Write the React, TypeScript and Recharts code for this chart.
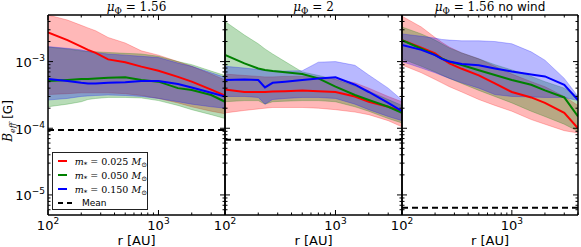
import React from 'react'
import { ComposedChart, Area, Line, XAxis, YAxis, ReferenceLine } from 'recharts'

// radius grid shared by every panel [AU]
const radii = [100, 150, 200, 230, 270, 350, 500, 700, 1000, 1500, 2000, 3000, 4000]

// panel 1: mu = 1.56
const p1Red = [2.75e-3, 2.1e-3, 1.68e-3, 1.5e-3, 1.35e-3, 1.08e-3, 9.8e-4, 8.4e-4, 7.3e-4, 5.9e-4, 5.0e-4, 3.8e-4, 3.1e-4]
const p1RedLo = [3.2e-4, 3.3e-4, 3.4e-4, 3.4e-4, 3.4e-4, 3.4e-4, 3.3e-4, 3.1e-4, 2.8e-4, 2.4e-4, 2.1e-4, 1.8e-4, 1.65e-4]
const p1RedHi = [5.0e-3, 4.2e-3, 3.5e-3, 3.2e-3, 2.9e-3, 2.3e-3, 1.9e-3, 1.45e-3, 1.25e-3, 1.0e-3, 8.5e-4, 6.5e-4, 5.3e-4]
const p1Green = [5.1e-4, 5.3e-4, 5.5e-4, 5.5e-4, 5.6e-4, 5.7e-4, 5.8e-4, 5.3e-4, 5.0e-4, 4.0e-4, 3.75e-4, 3.15e-4, 2.5e-4]
const p1GreenLo = [2.1e-4, 2.3e-4, 2.5e-4, 2.7e-4, 2.8e-4, 2.9e-4, 2.9e-4, 2.85e-4, 2.6e-4, 2.2e-4, 1.9e-4, 1.6e-4, 1.4e-4]
const p1GreenHi = [1.65e-3, 1.55e-3, 1.45e-3, 1.42e-3, 1.4e-3, 1.37e-3, 1.33e-3, 1.3e-3, 1.2e-3, 1.0e-3, 9.0e-4, 7.2e-4, 6.2e-4]
const p1Blue = [5.5e-4, 5.1e-4, 4.8e-4, 4.7e-4, 4.7e-4, 4.8e-4, 4.9e-4, 5.1e-4, 5.1e-4, 4.6e-4, 4.1e-4, 3.4e-4, 3.0e-4]
const p1BlueLo = [2.65e-4, 2.8e-4, 3.0e-4, 3.05e-4, 3.1e-4, 3.15e-4, 3.1e-4, 3.0e-4, 2.8e-4, 2.5e-4, 2.3e-4, 2.1e-4, 2.0e-4]
const p1BlueHi = [1.68e-3, 1.58e-3, 1.5e-3, 1.42e-3, 1.36e-3, 1.3e-3, 1.25e-3, 1.2e-3, 1.15e-3, 9.5e-4, 8.5e-4, 6.8e-4, 5.8e-4]
const p1Mean = 9.4e-5

// panel 2: mu = 2
const p2Red = [3.8e-4, 3.5e-4, 3.5e-4, 3.5e-4, 3.55e-4, 3.6e-4, 3.7e-4, 3.6e-4, 3.5e-4, 3.0e-4, 2.5e-4, 2.1e-4, 1.8e-4]
const p2RedLo = [1.7e-4, 1.85e-4, 1.95e-4, 2.0e-4, 2.05e-4, 2.05e-4, 2.05e-4, 2.0e-4, 1.9e-4, 1.75e-4, 1.6e-4, 1.3e-4, 1.05e-4]
const p2RedHi = [6.5e-4, 6.2e-4, 6.0e-4, 5.9e-4, 5.9e-4, 6.0e-4, 6.0e-4, 5.8e-4, 5.5e-4, 4.8e-4, 4.0e-4, 3.0e-4, 2.5e-4]
const p2Green = [1.26e-3, 9.4e-4, 7.9e-4, 7.5e-4, 7.2e-4, 6.9e-4, 6.5e-4, 5.6e-4, 4.2e-4, 3.15e-4, 2.65e-4, 2.1e-4, 1.7e-4]
const p2GreenLo = [2.5e-4, 2.6e-4, 2.6e-4, 2.3e-4, 2.5e-4, 2.55e-4, 2.6e-4, 2.6e-4, 2.5e-4, 2.1e-4, 1.8e-4, 1.4e-4, 1.2e-4]
const p2GreenHi = [4.0e-3, 2.5e-3, 1.85e-3, 1.55e-3, 1.3e-3, 1.0e-3, 7.0e-4, 6.2e-4, 5.4e-4, 4.3e-4, 3.6e-4, 2.7e-4, 2.2e-4]
const p2Blue = [5.3e-4, 5.4e-4, 5.3e-4, 4.1e-4, 4.8e-4, 5.0e-4, 5.3e-4, 5.6e-4, 5.8e-4, 4.5e-4, 3.5e-4, 2.4e-4, 1.8e-4]
const p2BlueLo = [3.0e-4, 3.0e-4, 2.9e-4, 2.3e-4, 2.7e-4, 2.8e-4, 2.9e-4, 2.9e-4, 2.8e-4, 2.3e-4, 1.9e-4, 1.5e-4, 1.3e-4]
const p2BlueHi = [8.5e-4, 8.0e-4, 7.6e-4, 7.4e-4, 7.3e-4, 7.2e-4, 7.3e-4, 9.8e-4, 1.0e-3, 8.8e-4, 6.3e-4, 4.0e-4, 2.65e-4]
const p2Mean = 6.7e-5

// panel 3: mu = 1.56, no wind
const p3Red = [2.1e-3, 1.62e-3, 1.33e-3, 1.12e-3, 9.4e-4, 7.8e-4, 6.2e-4, 4.7e-4, 3.5e-4, 2.9e-4, 2.4e-4, 1.7e-4, 1.0e-4]
const p3RedLo = [8.9e-4, 6.8e-4, 5.4e-4, 4.8e-4, 4.2e-4, 3.5e-4, 2.7e-4, 2.2e-4, 1.8e-4, 1.35e-4, 1.15e-4, 9.2e-5, 8.5e-5]
const p3RedHi = [4.8e-3, 3.3e-3, 2.3e-3, 1.95e-3, 1.65e-3, 1.35e-3, 1.1e-3, 8.5e-4, 6.5e-4, 5.0e-4, 4.2e-4, 3.0e-4, 2.2e-4]
const p3Green = [2.1e-3, 1.56e-3, 1.26e-3, 1.12e-3, 1.0e-3, 8.9e-4, 7.4e-4, 6.3e-4, 5.3e-4, 4.5e-4, 3.7e-4, 2.9e-4, 1.5e-4]
const p3GreenLo = [1.1e-3, 8.5e-4, 7.0e-4, 6.3e-4, 5.6e-4, 4.7e-4, 3.7e-4, 3.0e-4, 2.4e-4, 1.8e-4, 1.5e-4, 1.15e-4, 9.0e-5]
const p3GreenHi = [3.3e-3, 2.6e-3, 2.1e-3, 1.85e-3, 1.6e-3, 1.35e-3, 1.1e-3, 9.0e-4, 7.5e-4, 6.0e-4, 5.0e-4, 4.0e-4, 3.0e-4]
const p3Blue = [1.77e-3, 1.5e-3, 1.25e-3, 1.1e-3, 1.0e-3, 9.2e-4, 8.8e-4, 7.9e-4, 7.1e-4, 6.4e-4, 6.0e-4, 4.5e-4, 2.65e-4]
const p3BlueLo = [1.0e-3, 8.0e-4, 6.8e-4, 6.2e-4, 5.6e-4, 4.8e-4, 4.0e-4, 3.2e-4, 3.0e-4, 2.95e-4, 2.9e-4, 2.9e-4, 2.6e-4]
const p3BlueHi = [2.6e-3, 2.4e-3, 2.25e-3, 2.15e-3, 2.1e-3, 2.05e-3, 2.05e-3, 2.0e-3, 1.85e-3, 1.4e-3, 1.05e-3, 5.6e-4, 3.0e-4]
const p3Mean = 6.4e-6

// axis ticks
const xTicks = [100, 200, 300, 400, 500, 600, 700, 800, 900, 1000, 2000, 3000, 4000]
const xMajor = [100, 1000]
const xMajorExp = ['2', '3']
const yTicks = [
  6e-6, 7e-6, 8e-6, 9e-6, 1e-5, 2e-5, 3e-5, 4e-5, 5e-5, 6e-5, 7e-5, 8e-5, 9e-5,
  1e-4, 2e-4, 3e-4, 4e-4, 5e-4, 6e-4, 7e-4, 8e-4, 9e-4, 1e-3, 2e-3, 3e-3, 4e-3,
]
const yMajor = [1e-5, 1e-4, 1e-3]
const yMajorExp = ['\u22125', '\u22124', '\u22123']

const legendLabels = ['0.025', '0.050', '0.150']

const RED = '#ff0000'
const GREEN = '#008000'
const BLUE = '#0000ff'
const serif = '"DejaVu Serif", serif'
const sans = '"DejaVu Sans", sans-serif'

const panels = [
  { title: '1.56', suffix: '', mean: p1Mean, red: p1Red, redLo: p1RedLo, redHi: p1RedHi, green: p1Green, greenLo: p1GreenLo, greenHi: p1GreenHi, blue: p1Blue, blueLo: p1BlueLo, blueHi: p1BlueHi },
  { title: '2', suffix: '', mean: p2Mean, red: p2Red, redLo: p2RedLo, redHi: p2RedHi, green: p2Green, greenLo: p2GreenLo, greenHi: p2GreenHi, blue: p2Blue, blueLo: p2BlueLo, blueHi: p2BlueHi },
  { title: '1.56', suffix: 'no wind', mean: p3Mean, red: p3Red, redLo: p3RedLo, redHi: p3RedHi, green: p3Green, greenLo: p3GreenLo, greenHi: p3GreenHi, blue: p3Blue, blueLo: p3BlueLo, blueHi: p3BlueHi },
]

// plot box of each panel, in page pixels
const boxes = [
  { left: 48, width: 177, mLeft: 48, mRight: 8 },
  { left: 225, width: 177, mLeft: 14, mRight: 8 },
  { left: 402, width: 176, mLeft: 14, mRight: 3 },
]
const TOP = 15
const BOTTOM = 215

function BottomTick(props: any) {
  const { x, y, payload } = props
  const i = xMajor.indexOf(payload.value)
  const major = i >= 0
  return (
    <g>
      <line x1={x} x2={x} y1={y} y2={y - (major ? 5 : 2.5)} stroke="#000" strokeWidth={1} />
      {major && (
        <text x={x} y={y + 14.5} textAnchor="middle" fontSize={13} fontFamily={sans} fill="#000">
          10<tspan dy={-6} fontSize={9}>{xMajorExp[i]}</tspan>
        </text>
      )}
    </g>
  )
}

function TopTick(props: any) {
  const { x, y, payload } = props
  const major = xMajor.includes(payload.value)
  return <line x1={x} x2={x} y1={y} y2={y + (major ? 5 : 2.5)} stroke="#000" strokeWidth={1} />
}

function LeftTick(props: any) {
  const { x, y, payload, showLabel } = props
  const i = yMajor.indexOf(payload.value)
  const major = i >= 0
  return (
    <g>
      <line x1={x} x2={x + (major ? 5 : 2.5)} y1={y} y2={y} stroke="#000" strokeWidth={1} />
      {major && showLabel && (
        <text x={x - 3} y={y + 5.5} textAnchor="end" fontSize={13} fontFamily={sans} fill="#000">
          10<tspan dy={-6} fontSize={9}>{yMajorExp[i]}</tspan>
        </text>
      )}
    </g>
  )
}

function RightTick(props: any) {
  const { x, y, payload } = props
  const major = yMajor.includes(payload.value)
  return <line x1={x} x2={x - (major ? 5 : 2.5)} y1={y} y2={y} stroke="#000" strokeWidth={1} />
}

const frame = { stroke: '#000', strokeWidth: 1.5 }

function Panel({ p, box, showY }: any) {
  const data = radii.map((r, i) => ({
    r,
    red: p.red[i],
    green: p.green[i],
    blue: p.blue[i],
    redBand: [p.redLo[i], p.redHi[i]],
    greenBand: [p.greenLo[i], p.greenHi[i]],
    blueBand: [p.blueLo[i], p.blueHi[i]],
  }))
  const width = box.mLeft + box.width + box.mRight
  // axes are 1px thick so that they still render; margins absorb it
  const xProps = {
    dataKey: 'r',
    type: 'number' as const,
    scale: 'log' as const,
    domain: [100, 4000],
    allowDataOverflow: true,
    ticks: xTicks,
    interval: 0 as const,
    height: 1,
    tickSize: 0,
    tickMargin: 0,
    tickLine: false,
    axisLine: frame,
  }
  const yProps = {
    type: 'number' as const,
    scale: 'log' as const,
    domain: [5e-6, 5e-3],
    allowDataOverflow: true,
    ticks: yTicks,
    interval: 0 as const,
    width: 1,
    tickSize: 0,
    tickMargin: 0,
    tickLine: false,
    axisLine: frame,
  }
  const band = (key: string, color: string) => (
    <Area
      yAxisId="left"
      type="linear"
      dataKey={key}
      fill={color}
      fillOpacity={0.28}
      stroke={color}
      strokeOpacity={0.35}
      strokeWidth={0.7}
      isAnimationActive={false}
      dot={false}
      activeDot={false}
    />
  )
  const line = (key: string, color: string) => (
    <Line
      yAxisId="left"
      type="linear"
      dataKey={key}
      stroke={color}
      strokeWidth={2}
      dot={false}
      activeDot={false}
      isAnimationActive={false}
    />
  )
  return (
    <div style={{ position: 'absolute', left: box.left - box.mLeft, top: 0 }}>
      <ComposedChart
        width={width}
        height={247}
        data={data}
        margin={{ top: TOP - 1, right: box.mRight - 1, bottom: 247 - BOTTOM - 1, left: box.mLeft - 1 }}
      >
        {band('redBand', RED)}
        {band('greenBand', GREEN)}
        {band('blueBand', BLUE)}
        {line('red', RED)}
        {line('green', GREEN)}
        {line('blue', BLUE)}
        <ReferenceLine yAxisId="left" y={p.mean} stroke="#000" strokeWidth={2} strokeDasharray="6 4" />
        <XAxis {...xProps} xAxisId={0} orientation="bottom" tick={(t: any) => <BottomTick {...t} />} />
        <XAxis {...xProps} xAxisId="top" orientation="top" tick={(t: any) => <TopTick {...t} />} />
        <YAxis {...yProps} yAxisId="left" orientation="left" tick={(t: any) => <LeftTick {...t} showLabel={showY} />} />
        <YAxis {...yProps} yAxisId="right" orientation="right" tick={(t: any) => <RightTick {...t} />} />
      </ComposedChart>
    </div>
  )
}

function MuTitle({ value, suffix }: { value: string; suffix: string }) {
  return (
    <span style={{ whiteSpace: 'nowrap' }}>
      <span style={{ fontFamily: serif, fontStyle: 'italic' }}>μ</span>
      <span style={{ fontFamily: serif, fontSize: 9, position: 'relative', top: 3 }}>Φ</span>
      <span style={{ fontFamily: serif }}> = {value}</span>
      {suffix && <span style={{ fontFamily: sans }}> {suffix}</span>}
    </span>
  )
}

function LegendSwatch({ color, dashed }: { color: string; dashed?: boolean }) {
  return (
    <svg width={16} height={6} style={{ display: 'block' }}>
      <line x1={0} x2={16} y1={3} y2={3} stroke={color} strokeWidth={2} strokeDasharray={dashed ? '5 4' : undefined} />
    </svg>
  )
}

function Legend() {
  const rows = [
    { color: RED, label: legendLabels[0] },
    { color: GREEN, label: legendLabels[1] },
    { color: BLUE, label: legendLabels[2] },
  ]
  return (
    <div
      style={{
        position: 'absolute',
        left: 52,
        top: 152,
        width: 96,
        height: 58,
        border: '1px solid #222',
        background: '#fff',
        boxSizing: 'border-box',
        paddingTop: 1,
      }}
    >
      {rows.map((r) => (
        <div key={r.label} style={{ display: 'flex', alignItems: 'center', height: 14, paddingLeft: 5 }}>
          <LegendSwatch color={r.color} />
          <span style={{ marginLeft: 8, fontFamily: serif, fontSize: 9.5, whiteSpace: 'nowrap' }}>
            <i>m</i>
            <span style={{ fontSize: 7, position: 'relative', top: 2 }}>*</span> = {r.label}{' '}
            <i>M</i>
            <span style={{ fontSize: 7, position: 'relative', top: 2 }}>⊙</span>
          </span>
        </div>
      ))}
      <div style={{ display: 'flex', alignItems: 'center', height: 14, paddingLeft: 5 }}>
        <LegendSwatch color="#000" dashed />
        <span style={{ marginLeft: 8, fontFamily: sans, fontSize: 9 }}>Mean</span>
      </div>
    </div>
  )
}

export default function App() {
  return (
    <div style={{ position: 'absolute', left: 0, top: 0, width: 581, height: 247, background: '#fff', overflow: 'hidden' }}>
      {panels.map((p, i) => (
        <Panel key={i} p={p} box={boxes[i]} showY={i === 0} />
      ))}
      {panels.map((p, i) => (
        <div
          key={'t' + i}
          style={{
            position: 'absolute',
            left: boxes[i].left,
            width: boxes[i].width,
            top: 0,
            textAlign: 'center',
            fontSize: 12,
            lineHeight: '14px',
          }}
        >
          <MuTitle value={p.title} suffix={p.suffix} />
        </div>
      ))}
      {boxes.map((b, i) => (
        <div
          key={'x' + i}
          style={{
            position: 'absolute',
            left: b.left,
            width: b.width,
            top: 233,
            textAlign: 'center',
            fontFamily: sans,
            fontSize: 13,
            lineHeight: '16px',
          }}
        >
          r [AU]
        </div>
      ))}
      <div
        style={{
          position: 'absolute',
          left: 9,
          top: 121,
          transform: 'translate(-50%, -50%) rotate(-90deg)',
          whiteSpace: 'nowrap',
          fontSize: 12,
          lineHeight: '16px',
        }}
      >
        <span style={{ fontFamily: serif, fontStyle: 'italic' }}>B</span>
        <span style={{ fontFamily: serif, fontStyle: 'italic', fontSize: 8, position: 'relative', top: 3 }}>eff</span>
        <span style={{ fontFamily: sans }}> [G]</span>
      </div>
      <Legend />
    </div>
  )
}
